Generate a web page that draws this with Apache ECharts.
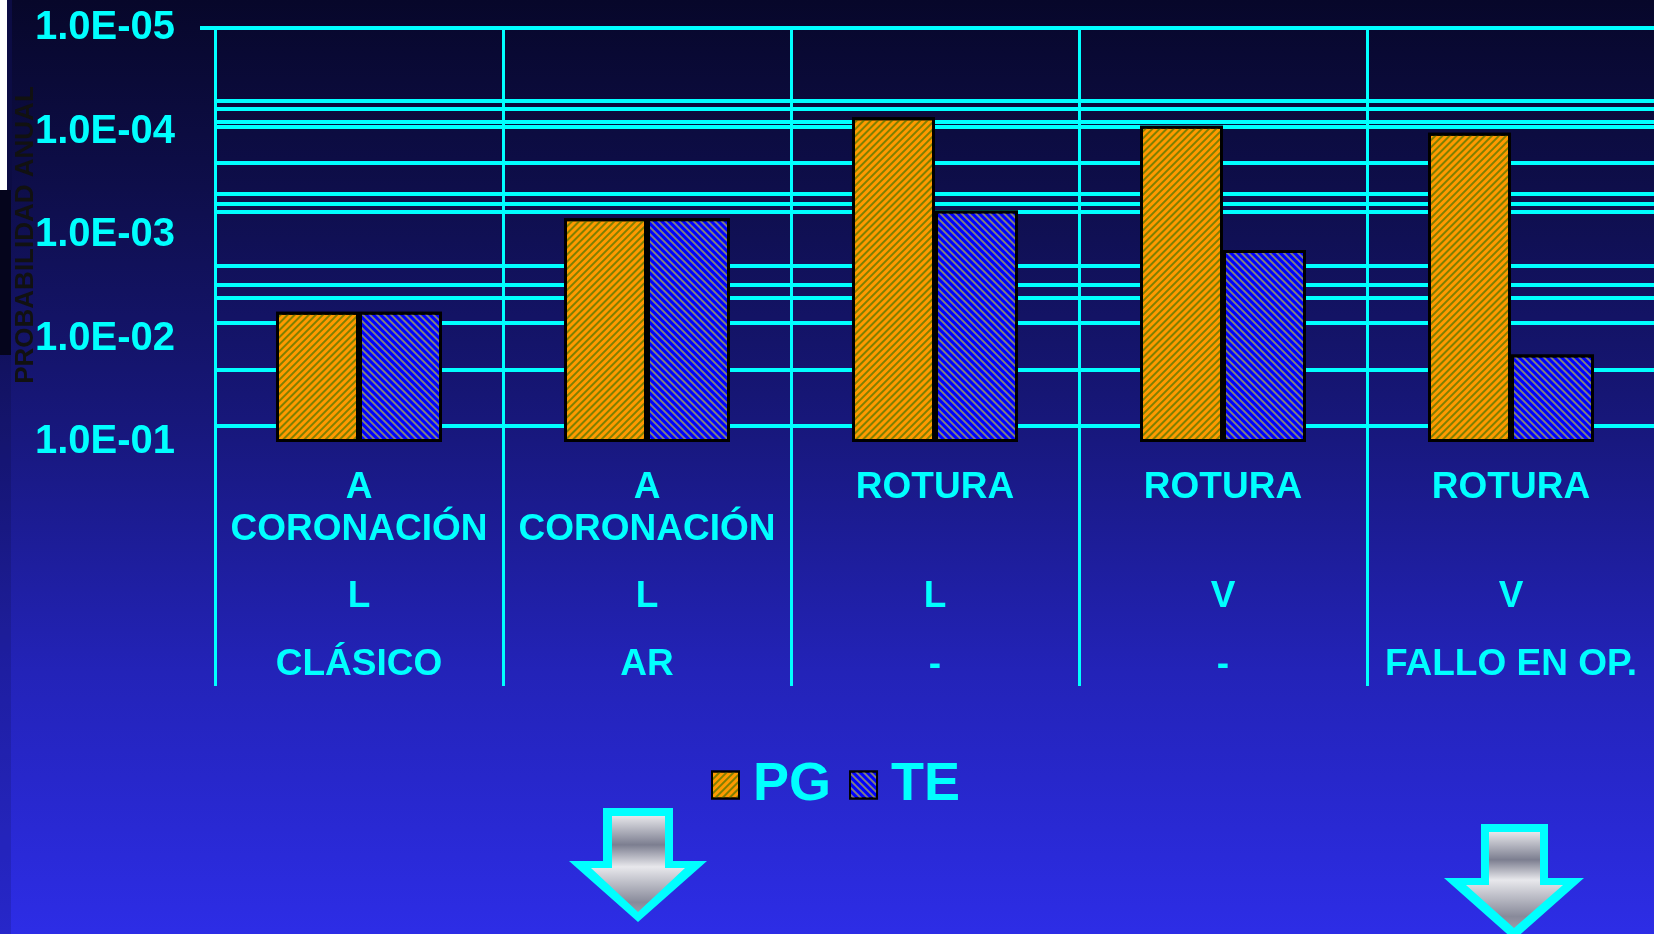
<!DOCTYPE html>
<html>
<head>
<meta charset="utf-8">
<script src="https://cdn.jsdelivr.net/npm/echarts@6/dist/echarts.min.js"></script>
<style>
html,body{margin:0;padding:0;background:#0a0a30;overflow:hidden}
#c{width:1654px;height:934px}
</style>
</head>
<body>
<div id="c"></div>
<script>
// ---- data ----
const row1 = ['A', 'A', 'ROTURA', 'ROTURA', 'ROTURA'];
const row2 = ['CORONACIÓN', 'CORONACIÓN', '', '', ''];
const row3 = ['L', 'L', 'L', 'V', 'V'];
const row4 = ['CLÁSICO', 'AR', '-', '-', 'FALLO EN OP.'];
const categories = row1.map((r, i) => [r, row2[i], row3[i], row4[i]].filter(Boolean).join(' '));
const seriesNames = ['PG', 'TE'];
const pgValues = [5.5e-3, 6.9e-4, 7.3e-5, 8.8e-5, 1.03e-4];
const teValues = [5.5e-3, 6.9e-4, 5.8e-4, 1.4e-3, 1.43e-2];
const yTickValues = [1e-5, 1e-4, 1e-3, 1e-2, 1e-1];
const yTickLabels = ['1.0E-05', '1.0E-04', '1.0E-03', '1.0E-02', '1.0E-01'];
const gridValues = [1e-5, 5e-5, 6e-5, 8e-5, 9e-5, 2e-4, 4e-4, 5e-4, 6e-4, 2e-3, 3e-3, 4e-3, 7e-3, 2e-2, 7e-2];
const yName = 'PROBABILIDAD ANUAL';

// ---- styles ----
const CYAN = '#00FFFF';
const FONT = '"Liberation Sans", Arial, sans-serif';

function tickLabel(v) {
  const e = Math.round(Math.log10(v));
  const idx = yTickValues.findIndex(t => Math.round(Math.log10(t)) === e);
  return idx >= 0 ? yTickLabels[idx] : '';
}

const labelBase = {color: CYAN, fontWeight: 'bold', fontFamily: FONT, fontSize: 37};

const chart = echarts.init(document.getElementById('c'), null, {renderer: 'canvas'});

const option = {
  animation: false,
  backgroundColor: {
    type: 'linear', x: 0, y: 0, x2: 0, y2: 1,
    colorStops: [
      {offset: 0, color: '#07072a'},
      {offset: 0.2, color: '#0e0e4a'},
      {offset: 0.45, color: '#17177a'},
      {offset: 0.72, color: '#2323b8'},
      {offset: 1, color: '#2d2de6'}
    ]
  },
  grid: [
    {left: 215, width: 1440, top: 28, height: 414, outerBoundsMode: 'none', containLabel: false},
    {left: 215, width: 1440, top: 442, height: 244, outerBoundsMode: 'none', containLabel: false}
  ],
  legend: {
    data: seriesNames,
    left: 706,
    top: 753,
    icon: 'rect',
    itemWidth: 27,
    itemHeight: 27,
    itemGap: 18,
    selectedMode: false,
    textStyle: {color: CYAN, fontWeight: 'bold', fontFamily: FONT, fontSize: 54, padding: [0, 0, 0, 9]}
  },
  xAxis: [
    {
      type: 'category', gridIndex: 0, data: categories,
      axisLine: {show: false}, axisTick: {show: false},
      splitLine: {show: true, interval: 0, lineStyle: {color: CYAN, width: 3}},
      axisLabel: {
        interval: 0, margin: 25,
        formatter: (v, i) => `{a|${row1[i]}}\n{a|${row2[i] || ' '}}\n{b|${row3[i]}}\n{c|${row4[i]}}`,
        rich: {
          a: Object.assign({lineHeight: 42}, labelBase),
          b: Object.assign({lineHeight: 92}, labelBase),
          c: Object.assign({lineHeight: 44}, labelBase)
        }
      }
    },
    {
      type: 'category', gridIndex: 1, data: categories,
      axisLine: {show: false}, axisTick: {show: false}, axisLabel: {show: false},
      splitLine: {show: true, interval: 0, lineStyle: {color: CYAN, width: 3}}
    }
  ],
  yAxis: [
    {
      type: 'log', logBase: 10, gridIndex: 0,
      min: 1e-5, max: 1e-1, inverse: true, startValue: 1e-1,
      name: yName, nameLocation: 'middle', nameRotate: 90, nameGap: 176, nameMoveOverlap: false,
      nameTextStyle: {color: '#111111', fontWeight: 'bold', fontFamily: FONT, fontSize: 26},
      axisLine: {show: false},
      axisTick: {show: false, customValues: gridValues},
      splitLine: {show: true, lineStyle: {color: CYAN, width: 4, type: 'solid'}},
      axisLabel: {
        margin: 40, color: CYAN, fontWeight: 'bold', fontFamily: FONT, fontSize: 40,
        customValues: yTickValues,
        formatter: tickLabel
      }
    },
    {type: 'value', gridIndex: 1, show: false}
  ],
  series: [
    {
      name: 'PG', type: 'bar', xAxisIndex: 0, yAxisIndex: 0,
      data: pgValues, barWidth: 83, barGap: '0%',
      emphasis: {disabled: true},
      itemStyle: {
        color: '#FF9900', borderColor: '#000', borderWidth: 3,
        decal: {symbol: 'rect', symbolSize: 1, dashArrayX: [1, 0], dashArrayY: [2, 2.5], rotation: -Math.PI / 4, color: '#808000'}
      }
    },
    {
      name: 'TE', type: 'bar', xAxisIndex: 0, yAxisIndex: 0,
      data: teValues, barWidth: 83, barGap: '0%',
      emphasis: {disabled: true},
      itemStyle: {
        color: '#0000FF', borderColor: '#000', borderWidth: 3,
        decal: {symbol: 'rect', symbolSize: 1, dashArrayX: [1, 0], dashArrayY: [2, 2.5], rotation: Math.PI / 4, color: '#808080'}
      }
    }
  ],
  graphic: [
    {type: 'rect', silent: true, shape: {x: 200, y: 26, width: 16, height: 4}, style: {fill: CYAN}},
    {type: 'rect', silent: true, shape: {x: 0, y: 0, width: 7, height: 190}, style: {fill: '#ffffff'}},
    {type: 'rect', silent: true, shape: {x: 7, y: 0, width: 5, height: 190}, style: {fill: '#0c0c44'}},
    {type: 'rect', silent: true, shape: {x: 0, y: 190, width: 11, height: 165}, style: {fill: '#05051c'}},
    {type: 'rect', silent: true, shape: {x: 0, y: 355, width: 11, height: 579}, style: {fill: 'rgba(0,0,0,0.12)'}},
    {type: 'polygon', silent: true, shape: {points: [[603,808],[673,808],[673,861],[707,861],[638,922],[569,861],[603,861]]}, style: {fill: CYAN}},
    {type: 'polygon', silent: true, shape: {points: [[612,816],[665,816],[665,868],[685,868],[638,912],[591,868],[612,868]]},
      style: {fill: {type: 'linear', x: 0, y: 0, x2: 0, y2: 1, colorStops: [
        {offset: 0, color: '#e6e6ea'}, {offset: 0.3, color: '#7c7e90'}, {offset: 0.53, color: '#e8e8ec'}, {offset: 0.9, color: '#888a9a'}, {offset: 1, color: '#9a9aa8'}]}}},
    {type: 'polygon', silent: true, shape: {points: [[1481,824],[1548,824],[1548,878],[1584,878],[1514,940],[1444,878],[1481,878]]}, style: {fill: CYAN}},
    {type: 'polygon', silent: true, shape: {points: [[1489,832],[1540,832],[1540,885],[1563,885],[1514,928],[1466,885],[1489,885]]},
      style: {fill: {type: 'linear', x: 0, y: 0, x2: 0, y2: 1, colorStops: [
        {offset: 0, color: '#e6e6ea'}, {offset: 0.29, color: '#7c7e90'}, {offset: 0.5, color: '#e8e8ec'}, {offset: 0.88, color: '#888a9a'}, {offset: 1, color: '#9a9aa8'}]}}}
  ]
};
chart.setOption(option);
</script>
</body>
</html>
